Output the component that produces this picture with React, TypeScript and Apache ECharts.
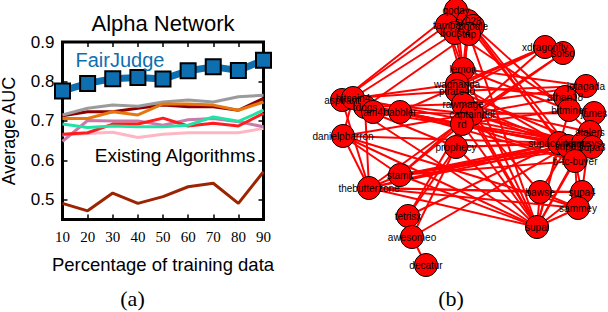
import React, { useEffect, useRef } from 'react';
import * as echarts from 'echarts';

// ---------- (a) line chart data ----------
const xVals = [10, 20, 30, 40, 50, 60, 70, 80, 90];
const yTicks = [0.5, 0.6, 0.7, 0.8, 0.9];
const fairJudge = [0.776, 0.795, 0.807, 0.810, 0.806, 0.827, 0.837, 0.828, 0.854];
const algoGray = [0.715, 0.732, 0.740, 0.737, 0.748, 0.753, 0.748, 0.761, 0.765];
const algoDarkRed = [0.713, 0.723, 0.723, 0.732, 0.740, 0.736, 0.736, 0.727, 0.757];
const algoOrange = [0.706, 0.706, 0.723, 0.715, 0.743, 0.743, 0.740, 0.727, 0.748];
const algoTeal = [0.692, 0.683, 0.687, 0.685, 0.685, 0.689, 0.710, 0.699, 0.727];
const algoRed = [0.666, 0.670, 0.692, 0.692, 0.707, 0.687, 0.694, 0.687, 0.719];
const algoMauve = [0.648, 0.701, 0.700, 0.700, 0.689, 0.703, 0.706, 0.698, 0.685];
const algoPink = [0.664, 0.668, 0.671, 0.658, 0.666, 0.670, 0.670, 0.670, 0.681];
const algoBrown = [0.491, 0.472, 0.517, 0.491, 0.508, 0.533, 0.542, 0.491, 0.571];

// ---------- (b) network data ----------
const nodeNames = [
  'qoday', 'tampa', 'sx028', 'poodle', 'bodst4', 'trip',
  'lemon', 'wagnanda', 'pirate40', 'rawmage', 'captainddl', 'rd', 'prophecy',
  'xdragonfly', 'solso', 'jotagada', 'athan18', 'bitminer', 'james', 'stalers',
  'supacoinmine', 'supa2', 'tempsys', 'supa3', 'b-tc-buyer', 'bawse', 'supa4', 'sammey', 'supal',
  'aspirant', 'bitcoin4', 'tdogs', 'am4', 'babbler', 'danielpbarron', 'stamit',
  'thebutterzone', 'tetrisx', 'awesomeo', 'decatur',
];
const nodeX = [
  456, 447, 468, 473, 455, 469,
  463, 457, 457, 463, 472, 462, 456,
  545, 563, 586, 565, 569, 594, 590,
  559, 568, 583, 592, 575, 540, 582, 578, 537,
  342, 353, 365, 373, 400, 343, 400,
  369, 408, 412, 426,
];
const nodeY = [
  10, 25, 21, 26, 33, 34,
  69, 84, 91, 104, 114, 124, 147,
  47, 53, 86, 97, 110, 113, 132,
  143, 146, 143, 147, 161, 192, 192, 208, 227,
  100, 98, 107, 112, 112, 136, 175,
  188, 216, 237, 265,
];
const edgePairs: [string, string][] = [
  ['qoday', 'lemon'], ['tampa', 'lemon'], ['bodst4', 'lemon'], ['trip', 'lemon'], ['sx028', 'lemon'],
  ['tampa', 'aspirant'], ['bodst4', 'bitcoin4'], ['trip', 'tdogs'], ['qoday', 'aspirant'],
  ['sx028', 'supacoinmine'], ['poodle', 'stalers'], ['bodst4', 'bitminer'], ['qoday', 'b-tc-buyer'],
  ['trip', 'supal'], ['poodle', 'supa2'], ['tampa', 'captainddl'], ['sx028', 'rawmage'],
  ['xdragonfly', 'pirate40'], ['xdragonfly', 'babbler'], ['xdragonfly', 'stamit'],
  ['solso', 'captainddl'], ['solso', 'rd'], ['xdragonfly', 'wagnanda'], ['xdragonfly', 'solso'],
  ['jotagada', 'pirate40'], ['jotagada', 'rawmage'], ['athan18', 'captainddl'], ['athan18', 'wagnanda'],
  ['bitminer', 'rd'], ['james', 'captainddl'], ['stalers', 'rawmage'],
  ['aspirant', 'captainddl'], ['aspirant', 'supa2'], ['bitcoin4', 'tempsys'], ['tdogs', 'supacoinmine'],
  ['am4', 'supa3'], ['babbler', 'supa2'], ['aspirant', 'wagnanda'], ['bitcoin4', 'pirate40'],
  ['tdogs', 'rawmage'], ['aspirant', 'thebutterzone'], ['bitcoin4', 'danielpbarron'],
  ['tdogs', 'thebutterzone'], ['am4', 'captainddl'], ['babbler', 'rd'], ['babbler', 'b-tc-buyer'],
  ['aspirant', 'prophecy'], ['aspirant', 'supal'],
  ['danielpbarron', 'thebutterzone'], ['danielpbarron', 'stamit'], ['danielpbarron', 'supacoinmine'],
  ['danielpbarron', 'supal'], ['danielpbarron', 'sammey'], ['danielpbarron', 'captainddl'],
  ['thebutterzone', 'supacoinmine'], ['thebutterzone', 'supa2'], ['thebutterzone', 'bawse'],
  ['thebutterzone', 'supa4'], ['thebutterzone', 'sammey'], ['thebutterzone', 'supal'],
  ['thebutterzone', 'stamit'], ['thebutterzone', 'captainddl'],
  ['stamit', 'supacoinmine'], ['stamit', 'supa2'], ['stamit', 'tempsys'], ['stamit', 'supa3'],
  ['stamit', 'b-tc-buyer'], ['stamit', 'rd'], ['stamit', 'supal'],
  ['tetrisx', 'rd'], ['tetrisx', 'prophecy'], ['tetrisx', 'supacoinmine'], ['tetrisx', 'awesomeo'],
  ['awesomeo', 'supa2'], ['awesomeo', 'captainddl'], ['decatur', 'awesomeo'],
  ['prophecy', 'supacoinmine'], ['prophecy', 'supal'], ['prophecy', 'tempsys'],
  ['supal', 'captainddl'], ['supal', 'rawmage'], ['supal', 'rd'], ['supal', 'lemon'], ['supal', 'bawse'],
  ['supal', 'supa4'], ['supal', 'sammey'], ['supal', 'bitminer'], ['supal', 'b-tc-buyer'],
  ['supal', 'stalers'], ['supal', 'supacoinmine'],
  ['bawse', 'supa4'], ['bawse', 'sammey'], ['bawse', 'captainddl'], ['bawse', 'supa2'],
  ['supa4', 'sammey'], ['supa4', 'b-tc-buyer'], ['supa4', 'stalers'], ['sammey', 'b-tc-buyer'],
  ['captainddl', 'supacoinmine'], ['rawmage', 'supa2'], ['rd', 'tempsys'], ['pirate40', 'supa3'],
  ['captainddl', 'supa3'], ['rd', 'b-tc-buyer'], ['wagnanda', 'supacoinmine'],
  ['lemon', 'wagnanda'], ['wagnanda', 'pirate40'], ['pirate40', 'rawmage'], ['rawmage', 'captainddl'],
  ['captainddl', 'rd'], ['lemon', 'jotagada'], ['lemon', 'bitminer'],
  ['jotagada', 'athan18'], ['athan18', 'bitminer'], ['bitminer', 'james'], ['james', 'stalers'],
  ['stalers', 'tempsys'], ['supacoinmine', 'supa2'], ['tempsys', 'supa3'], ['supa3', 'b-tc-buyer'],
];

const BLUE = '#0d6fb0';
const SANS = 'Liberation Sans, Arial, Helvetica, sans-serif';
const SERIF = 'Liberation Serif, Times New Roman, serif';

const algoSeries: { data: number[]; color: string }[] = [
  { data: algoPink, color: '#ffb6c4' },
  { data: algoMauve, color: '#c97aaa' },
  { data: algoRed, color: '#ff1c1c' },
  { data: algoTeal, color: '#22e3a6' },
  { data: algoDarkRed, color: '#8e0000' },
  { data: algoGray, color: '#9b9b9b' },
  { data: algoOrange, color: '#e8760e' },
  { data: algoBrown, color: '#9c2400' },
];

const pair = (arr: number[]) => xVals.map((x, i) => [x, arr[i]]);

function buildOption(): any {
  const tickStyle = { show: true, inside: true, length: 5, lineStyle: { color: '#000', width: 1.5 } };
  return {
    animation: false,
    backgroundColor: '#fff',
    grid: [
      { left: 62.5, top: 42, width: 201, height: 177.5, show: true, borderColor: '#000', borderWidth: 3, backgroundColor: 'transparent', outerBoundsMode: 'none', containLabel: false },
      { left: 290, top: 0, right: 0, bottom: 0, show: false, outerBoundsMode: 'none', containLabel: false },
    ],
    xAxis: [
      {
        gridIndex: 0, type: 'value', min: 10, max: 90, interval: 10, position: 'bottom',
        axisLine: { show: false }, splitLine: { show: false }, axisTick: tickStyle,
        axisLabel: { color: '#000', fontSize: 15, fontFamily: SERIF, margin: 10 },
      },
      {
        gridIndex: 0, type: 'value', min: 10, max: 90, interval: 10, position: 'top',
        axisLine: { show: false }, splitLine: { show: false }, axisTick: tickStyle,
        axisLabel: { show: false },
      },
      { gridIndex: 1, type: 'value', min: 290, max: 608, show: false },
    ],
    yAxis: [
      {
        gridIndex: 0, type: 'value', min: 0.45, max: 0.9, position: 'left',
        axisLine: { show: false }, splitLine: { show: false },
        axisTick: { ...tickStyle, customValues: yTicks },
        axisLabel: { color: '#000', fontSize: 17, fontFamily: SANS, margin: 8, customValues: yTicks, formatter: (v: number) => v.toFixed(1) },
      },
      {
        gridIndex: 0, type: 'value', min: 0.45, max: 0.9, position: 'right',
        axisLine: { show: false }, splitLine: { show: false },
        axisTick: { ...tickStyle, customValues: yTicks },
        axisLabel: { show: false },
      },
      { gridIndex: 1, type: 'value', min: 0, max: 312, inverse: true, show: false },
    ],
    series: [
      ...algoSeries.map((s) => ({
        type: 'line', xAxisIndex: 0, yAxisIndex: 0, data: pair(s.data), showSymbol: false, symbol: 'none',
        lineStyle: { color: s.color, width: 3 }, itemStyle: { color: s.color }, clip: true, silent: true,
      })),
      {
        type: 'line', xAxisIndex: 0, yAxisIndex: 0, data: pair(fairJudge), symbol: 'rect', symbolSize: 15,
        lineStyle: { color: BLUE, width: 7 }, itemStyle: { color: BLUE, borderColor: '#000', borderWidth: 2 },
        clip: true, silent: true, z: 5,
      },
      {
        type: 'graph', coordinateSystem: 'cartesian2d', xAxisIndex: 2, yAxisIndex: 2, silent: true,
        data: nodeNames.map((n, i) => ({ name: n, value: [nodeX[i], nodeY[i]] })),
        links: edgePairs.map(([s, t]) => ({ source: s, target: t })),
        symbol: 'circle', symbolSize: 23,
        itemStyle: { color: '#ff0000', borderColor: '#000', borderWidth: 1, opacity: 1 },
        lineStyle: { color: '#ff0000', width: 2, opacity: 1, curveness: 0 },
        label: { show: true, position: 'inside', color: '#000', fontSize: 10, fontFamily: SANS },
        emphasis: { disabled: true },
      },
    ],
    graphic: [
      { type: 'text', x: 163, y: 23, z: 100, style: { text: 'Alpha Network', fontSize: 22, fontFamily: SANS, fill: '#000', align: 'center', verticalAlign: 'middle' } },
      { type: 'text', x: 9, y: 131, rotation: Math.PI / 2, z: 100, style: { text: 'Average AUC', fontSize: 18, fontFamily: SANS, fill: '#000', align: 'center', verticalAlign: 'middle' } },
      { type: 'text', x: 163, y: 264, z: 100, style: { text: 'Percentage of training data', fontSize: 18.5, fontFamily: SANS, fill: '#000', align: 'center', verticalAlign: 'middle' } },
      { type: 'text', x: 120, y: 60, z: 100, style: { text: 'FairJudge', fontSize: 20, fontFamily: SANS, fill: BLUE, align: 'center', verticalAlign: 'middle' } },
      { type: 'text', x: 175, y: 155, z: 100, style: { text: 'Existing Algorithms', fontSize: 19, fontFamily: SANS, fill: '#000', align: 'center', verticalAlign: 'middle' } },
      { type: 'text', x: 132.5, y: 298, z: 100, style: { text: '(a)', fontSize: 22, fontFamily: SERIF, fill: '#000', align: 'center', verticalAlign: 'middle' } },
      { type: 'text', x: 451, y: 298, z: 100, style: { text: '(b)', fontSize: 22, fontFamily: SERIF, fill: '#000', align: 'center', verticalAlign: 'middle' } },
    ],
  };
}

export default function App() {
  const ref = useRef<HTMLDivElement>(null);
  useEffect(() => {
    if (!ref.current) return;
    const chart = echarts.init(ref.current, null, { renderer: 'svg' });
    chart.setOption(buildOption());
    return () => chart.dispose();
  }, []);
  return <div ref={ref} style={{ position: 'absolute', left: 0, top: 0, width: 608, height: 312 }} />;
}
